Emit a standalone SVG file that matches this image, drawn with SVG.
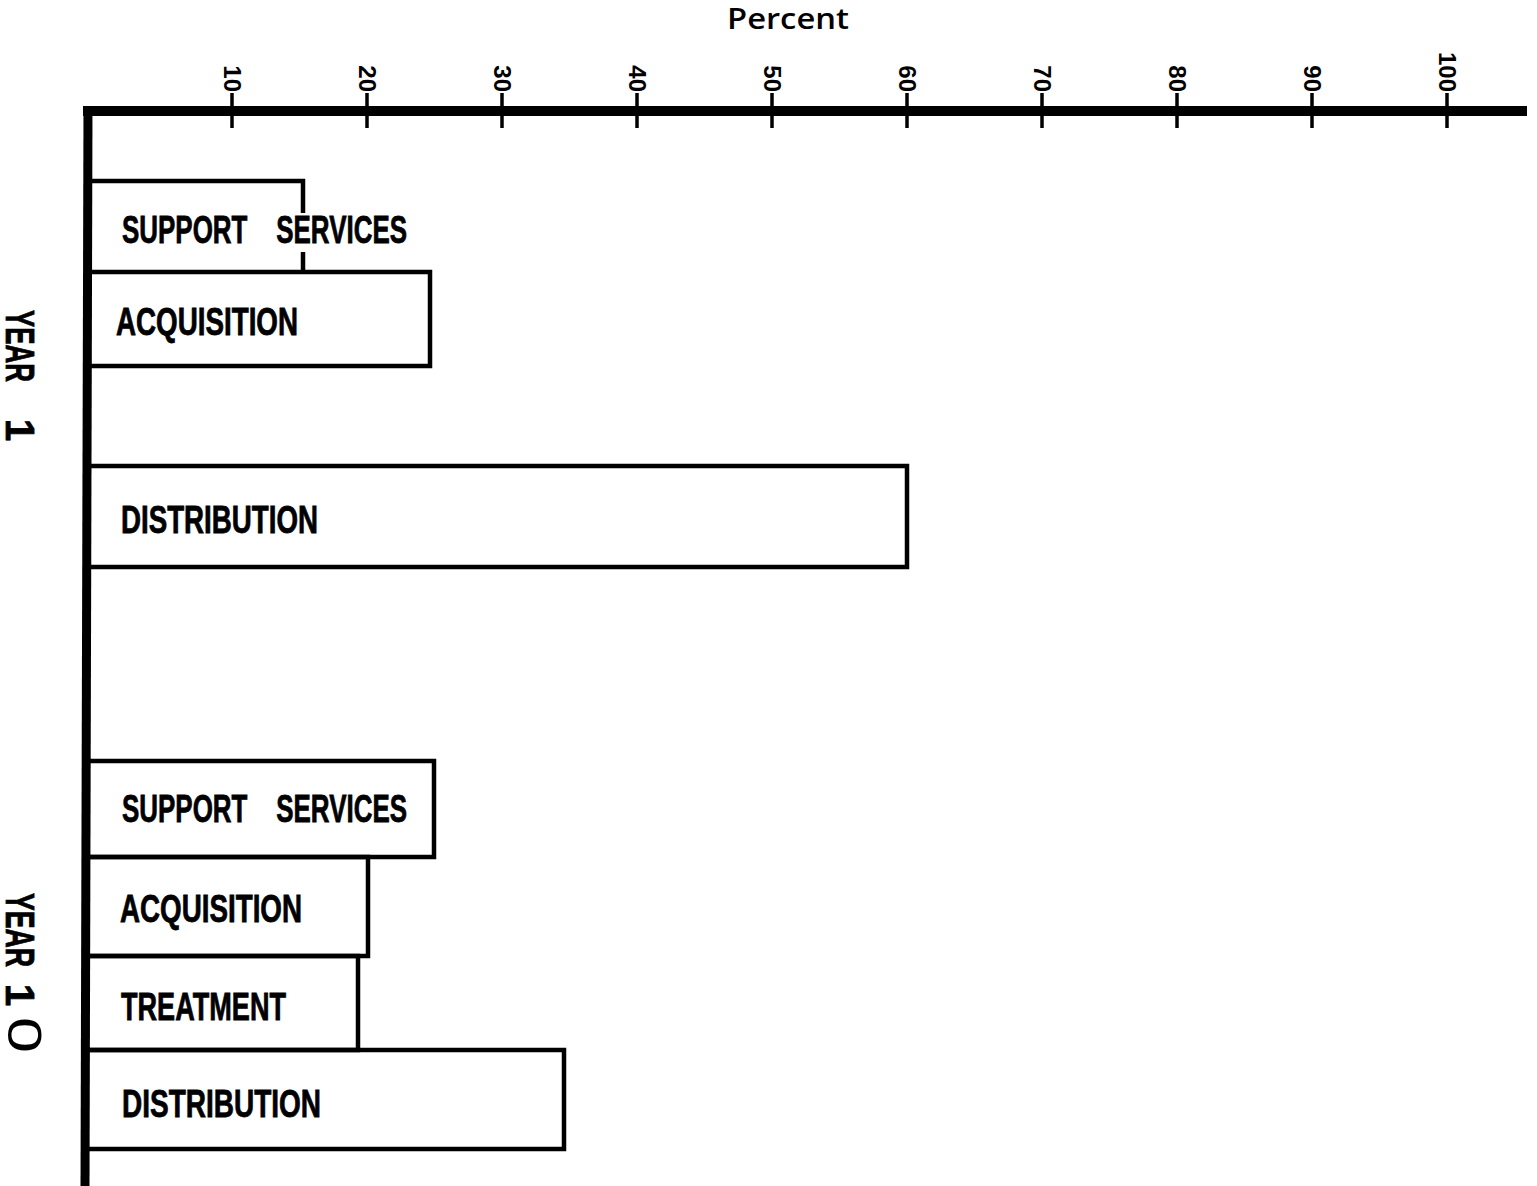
<svg xmlns="http://www.w3.org/2000/svg" width="1537" height="1186" viewBox="0 0 1537 1186">
<style>
.bar{fill:none;stroke:#000;stroke-width:4.5;stroke-linejoin:miter}
.lbl{font-family:"Liberation Sans",Arial,sans-serif;font-weight:bold;font-size:39px;fill:#000;stroke:#000;stroke-width:0.8;white-space:pre}
.tk{font-family:"Liberation Sans",Arial,sans-serif;font-weight:bold;font-size:24px;fill:#000}
.yr{font-family:"Liberation Sans",Arial,sans-serif;font-weight:bold;font-size:40px;fill:#000;stroke:#000;stroke-width:0.8}
.tick{stroke:#000;stroke-width:3.5}
</style>
<rect width="1537" height="1186" fill="#fff"/>
<g id="axes">
  <text x="727" y="29" font-family="'Open Sans',sans-serif" font-weight="600" font-size="28" textLength="122" lengthAdjust="spacingAndGlyphs">Percent</text>
  <path d="M83 111 L1527 111" stroke="#000" stroke-width="10"/>
  <path d="M88 106 L85 1186" stroke="#000" stroke-width="9"/>
  <g id="ticks">
    <line class="tick" x1="232" y1="93" x2="232" y2="128"/>
    <line class="tick" x1="367" y1="93" x2="367" y2="128"/>
    <line class="tick" x1="502" y1="93" x2="502" y2="128"/>
    <line class="tick" x1="637" y1="93" x2="637" y2="128"/>
    <line class="tick" x1="772" y1="93" x2="772" y2="128"/>
    <line class="tick" x1="907" y1="93" x2="907" y2="128"/>
    <line class="tick" x1="1042" y1="93" x2="1042" y2="128"/>
    <line class="tick" x1="1177" y1="93" x2="1177" y2="128"/>
    <line class="tick" x1="1312" y1="93" x2="1312" y2="128"/>
    <line class="tick" x1="1447" y1="93" x2="1447" y2="128"/>
  </g>
  <g id="tick-labels" text-anchor="end">
    <text class="tk" transform="translate(224,92) rotate(90)">10</text>
    <text class="tk" transform="translate(359,92) rotate(90)">20</text>
    <text class="tk" transform="translate(494,92) rotate(90)">30</text>
    <text class="tk" transform="translate(629,92) rotate(90)">40</text>
    <text class="tk" transform="translate(764,92) rotate(90)">50</text>
    <text class="tk" transform="translate(899,92) rotate(90)">60</text>
    <text class="tk" transform="translate(1034,92) rotate(90)">70</text>
    <text class="tk" transform="translate(1169,92) rotate(90)">80</text>
    <text class="tk" transform="translate(1304,92) rotate(90)">90</text>
    <text class="tk" transform="translate(1439,92) rotate(90)">100</text>
  </g>
</g>
<g id="year1-label">
  <text class="yr" transform="translate(6,310) rotate(90)" textLength="72" lengthAdjust="spacingAndGlyphs">YEAR</text>
  <text class="yr" font-size="50" transform="translate(6,419) rotate(90)">1</text>
</g>
<g id="year10-label">
  <text class="yr" transform="translate(6,893) rotate(90)" textLength="74" lengthAdjust="spacingAndGlyphs">YEAR</text>
  <text class="yr" font-size="50" transform="translate(6,984) rotate(90)">1</text>
  <text font-family="'Liberation Sans',Arial,sans-serif" font-weight="normal" font-size="48" textLength="36" lengthAdjust="spacingAndGlyphs" transform="translate(8,1017) rotate(90)">0</text>
</g>
<g id="y1-support">
  <path class="bar" d="M88 181 H303 V213 M303 252 V272"/>
  <text class="lbl" x="122" y="243" textLength="285" lengthAdjust="spacingAndGlyphs" xml:space="preserve">SUPPORT    SERVICES</text>
</g>
<g id="y1-acquisition">
  <rect class="bar" x="88" y="272" width="342" height="94"/>
  <text class="lbl" x="116" y="335" textLength="182" lengthAdjust="spacingAndGlyphs">ACQUISITION</text>
</g>
<g id="y1-distribution">
  <rect class="bar" x="88" y="466" width="819" height="101"/>
  <text class="lbl" x="121" y="533" textLength="197" lengthAdjust="spacingAndGlyphs">DISTRIBUTION</text>
</g>
<g id="y10-support">
  <rect class="bar" x="86" y="761" width="348" height="96"/>
  <text class="lbl" x="122" y="822" textLength="285" lengthAdjust="spacingAndGlyphs" xml:space="preserve">SUPPORT    SERVICES</text>
</g>
<g id="y10-acquisition">
  <rect class="bar" x="86" y="857" width="282" height="99"/>
  <text class="lbl" x="120" y="922" textLength="182" lengthAdjust="spacingAndGlyphs">ACQUISITION</text>
</g>
<g id="y10-treatment">
  <rect class="bar" x="86" y="956" width="272" height="94"/>
  <text class="lbl" x="121" y="1020" textLength="165" lengthAdjust="spacingAndGlyphs">TREATMENT</text>
</g>
<g id="y10-distribution">
  <rect class="bar" x="86" y="1050" width="478" height="99"/>
  <text class="lbl" x="122" y="1117" textLength="199" lengthAdjust="spacingAndGlyphs">DISTRIBUTION</text>
</g>
<g id="connectors"></g>
</svg>
